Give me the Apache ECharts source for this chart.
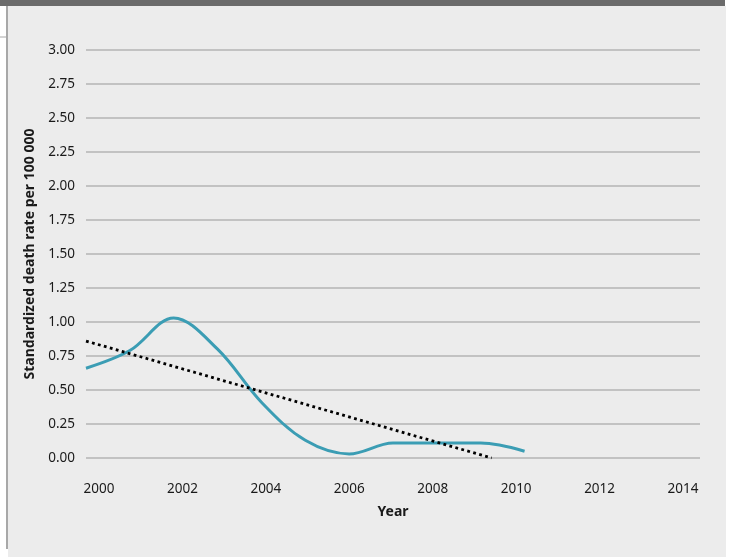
<!DOCTYPE html>
<html>
<head>
<meta charset="utf-8">
<script src="https://cdn.jsdelivr.net/npm/echarts@6/dist/echarts.min.js"></script>
<style>
html,body{margin:0;padding:0;background:#ffffff;}
#chart{width:733px;height:560px;}
</style>
</head>
<body>
<div id="chart"></div>
<script>
// Data
var years = [2000, 2001, 2002, 2003, 2004, 2005, 2006, 2007, 2008, 2009, 2010];
var deathRate = [0.66, 0.79, 1.03, 0.80, 0.41, 0.13, 0.03, 0.11, 0.11, 0.11, 0.05];
var trendYears = [2000, 2009.25];
var trendValues = [0.86, 0.0];
var yearTickLabels = [2000, 2002, 2004, 2006, 2008, 2010, 2012, 2014];
var yTicks = { min: 0, max: 3, step: 0.25 };
var yAxisTitle = 'Standardized death rate per 100 000';
var xAxisTitle = 'Year';

var FONT = '"Noto Sans", "Open Sans", sans-serif';

var chart = echarts.init(document.getElementById('chart'), null, { renderer: 'canvas' });

var option = {
  backgroundColor: '#ffffff',
  animation: false,
  graphic: [
    { type: 'rect', z: -10, shape: { x: 8, y: 6, width: 718, height: 551 }, style: { fill: '#ececec' } },
    { type: 'rect', z: -9, shape: { x: 0, y: 0, width: 725, height: 6 }, style: { fill: '#6b6b6b' } },
    { type: 'line', z: -8, shape: { x1: 7, y1: 6, x2: 7, y2: 549 }, style: { stroke: '#a8a8a8', lineWidth: 2 } },
    { type: 'line', z: -8, shape: { x1: 0, y1: 37, x2: 7, y2: 37 }, style: { stroke: '#a8a8a8', lineWidth: 1 } }
  ],
  grid: { left: 86, right: 33, top: 50, bottom: 102, containLabel: false },
  xAxis: [
    {
      type: 'value', min: 2000, max: 2014, show: false
    },
    {
      type: 'value', min: 1999.6884, max: 2014.4075, position: 'bottom',
      axisLine: { show: false }, axisTick: { show: false }, splitLine: { show: false },
      axisLabel: {
        customValues: yearTickLabels,
        margin: 24, color: '#1a1a1a', fontFamily: FONT, fontSize: 13.5,
        formatter: function (v) { return String(Math.round(v)); }
      },
      name: xAxisTitle, nameLocation: 'middle', nameGap: 47,
      nameTextStyle: { color: '#1a1a1a', fontFamily: FONT, fontSize: 14, fontWeight: 'bold' }
    }
  ],
  yAxis: {
    type: 'value', min: yTicks.min, max: yTicks.max, interval: yTicks.step,
    axisLine: { show: false }, axisTick: { show: false },
    splitLine: { lineStyle: { color: '#b4b4b4', width: 1.5 } },
    axisLabel: {
      margin: 11, color: '#1a1a1a', fontFamily: FONT, fontSize: 13.5,
      formatter: function (v) { return v.toFixed(2); }
    },
    name: yAxisTitle, nameLocation: 'middle', nameGap: 48, nameRotate: 90,
    nameTextStyle: { color: '#1a1a1a', fontFamily: FONT, fontSize: 14, fontWeight: 'bold' }
  },
  series: [
    {
      type: 'line', xAxisIndex: 0, smooth: 0.35, showSymbol: false, symbol: 'none',
      data: years.map(function (y, i) { return [y, deathRate[i]]; }),
      lineStyle: { color: '#3b9db4', width: 3 },
      z: 3
    },
    {
      type: 'line', xAxisIndex: 0, showSymbol: false, symbol: 'none',
      data: trendYears.map(function (y, i) { return [y, trendValues[i]]; }),
      lineStyle: { color: '#000000', width: 2.8, type: [2.8, 3.4], cap: 'butt' },
      z: 4
    }
  ]
};
chart.setOption(option);
</script>
</body>
</html>
